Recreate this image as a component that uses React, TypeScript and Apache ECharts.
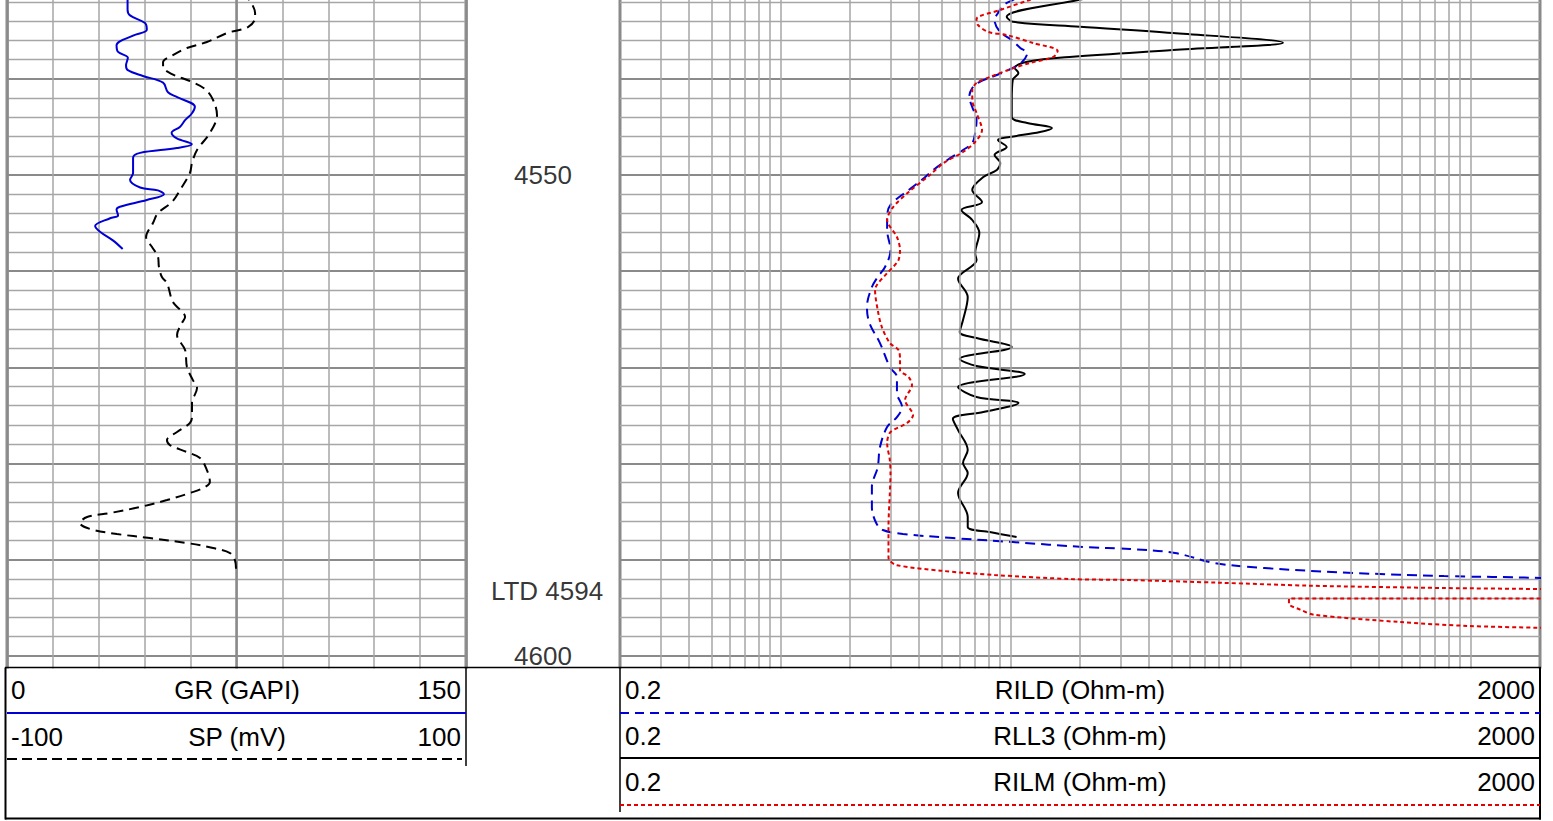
import React, { useEffect, useRef } from "react";
import * as echarts from "echarts";

// ---- scales / labels ----
const GR_RANGE = [0, 150];
const SP_RANGE = [-100, 100];
const RES_RANGE = [0.2, 2000];
const DEPTH_LABELS = [4550, 4600];
const LTD = 4594;
const GR_NAME = "GR (GAPI)";
const SP_NAME = "SP (mV)";
const RES_NAMES = ["RILD (Ohm-m)", "RLL3 (Ohm-m)", "RILM (Ohm-m)"];

// ---- curves: [depth (ft), value] ----
const GR_LOG = [
  [4531.5, 39.4], [4532.8, 39.4], [4533.4, 40.2], [4534.2, 45.1], [4534.9, 45.7],
  [4535.5, 41.2], [4536.5, 35.8], [4537.2, 36.3], [4537.8, 39.5], [4538.6, 38.9],
  [4539.1, 39.5], [4539.7, 44.4], [4540.4, 51.0], [4541.4, 52.6], [4541.9, 55.6],
  [4542.9, 61.4], [4543.6, 60.4], [4544.3, 58.2], [4545.0, 56.5], [4545.6, 53.8],
  [4546.2, 55.5], [4546.8, 60.4], [4547.2, 55.5], [4547.7, 43.5], [4548.2, 41.2],
  [4549.8, 41.2], [4550.5, 40.2], [4551.3, 43.5], [4551.6, 49.3], [4552.0, 51.3],
  [4552.6, 45.7], [4553.3, 36.9], [4553.6, 35.8], [4554.2, 36.3], [4554.5, 33.7],
  [4555.3, 28.8], [4555.9, 30.4], [4556.8, 34.6], [4557.7, 37.8],
];

const SP_LOG = [
  [4531.0, 3.0], [4533.15, 8.1], [4533.67, 8.1], [4534.61, 5.0], [4535.23, -4.1],
  [4536.17, -12.9], [4536.79, -21.6], [4537.52, -27.7], [4538.25, -32.0], [4538.77, -32.0],
  [4539.5, -28.1], [4540.23, -20.3], [4541.06, -13.7], [4542.2, -10.2], [4543.76, -8.5],
  [4545.63, -11.6], [4547.4, -17.2], [4548.75, -19.4], [4549.79, -20.3], [4551.56, -24.6],
  [4552.81, -28.1], [4553.96, -34.2], [4555.0, -36.4], [4556.45, -39.4], [4557.49, -36.8],
  [4558.53, -34.2], [4559.57, -33.8], [4560.61, -32.5], [4561.24, -30.3], [4563.21, -27.7],
  [4564.77, -22.4], [4565.4, -23.8], [4566.64, -25.9], [4568.2, -22.4], [4569.97, -21.6],
  [4571.33, -19.0], [4572.16, -17.2], [4573.72, -19.4], [4575.17, -19.4], [4575.8, -20.3],
  [4576.73, -25.9], [4577.57, -30.3], [4578.09, -29.0], [4578.82, -21.6], [4579.44, -15.9],
  [4580.69, -12.9], [4581.93, -11.6], [4582.56, -14.6], [4583.08, -20.3], [4583.81, -30.3],
  [4584.54, -42.1], [4585.16, -55.1], [4585.58, -65.1], [4586.2, -68.2], [4586.82, -63.8],
  [4587.34, -52.1], [4587.76, -37.7], [4588.28, -21.6], [4588.8, -10.2], [4589.32, -2.8],
  [4590.05, -0.7], [4591.09, -0.2],
];

const RLL3_LOG = [
  [4531.0, 30], [4531.8, 19.6], [4533.54, 9.6], [4534.06, 10.2], [4534.58, 20],
  [4535.23, 50.7], [4536.24, 152.6], [4537.0, 50.7], [4537.7, 18.6], [4538.22, 11.8],
  [4538.87, 10.4], [4539.39, 10.8], [4540.12, 10.2], [4542.2, 10.1], [4543.97, 10.1],
  [4544.59, 11.8], [4545.11, 15.1], [4545.53, 13.4], [4546.05, 9.9], [4546.36, 8.8],
  [4547.09, 9.6], [4547.92, 8.5], [4548.76, 9.0], [4549.48, 8.7], [4550.21, 7.6],
  [4551.56, 6.8], [4552.81, 7.5], [4553.64, 6.1], [4554.68, 6.8], [4556.04, 7.3],
  [4558.12, 7.0], [4558.85, 7.1], [4560.8, 5.9], [4562.69, 6.5], [4565.09, 6.2],
  [4566.33, 6.0], [4566.96, 7.1], [4567.89, 10.1], [4569.14, 6.0], [4569.87, 7.1],
  [4570.7, 11.5], [4572.06, 5.9], [4573.1, 7.1], [4573.72, 10.8], [4574.66, 7.6],
  [4575.38, 5.6], [4576.53, 5.9], [4578.61, 6.5], [4579.96, 6.2], [4581.0, 6.5],
  [4583.08, 5.9], [4585.58, 6.5], [4586.62, 6.5], [4587.14, 8.1], [4587.66, 10.6],
];

const RILD_LOG = [
  [4531.0, 12], [4531.8, 10.2], [4532.32, 9.3], [4533.15, 8.8], [4533.88, 8.5],
  [4535.13, 9.0], [4535.96, 10.1], [4536.79, 11.0], [4537.31, 11.8], [4538.25, 11.2],
  [4538.87, 10.2], [4539.6, 8.7], [4540.33, 7.3], [4540.95, 6.8], [4541.89, 6.6],
  [4542.93, 6.8], [4544.28, 7.1], [4545.63, 7.0], [4546.68, 6.8], [4547.4, 6.2],
  [4548.44, 5.3], [4549.48, 4.6], [4550.32, 4.2], [4551.56, 3.6], [4553.12, 3.0],
  [4554.37, 2.9], [4555.72, 2.9], [4557.81, 3.0], [4559.57, 2.84], [4560.61, 2.64],
  [4561.65, 2.49], [4563.73, 2.37], [4565.4, 2.43], [4567.48, 2.7], [4569.98, 2.98],
  [4571.02, 3.2], [4572.68, 3.2], [4574.14, 3.37], [4575.18, 3.2], [4576.22, 2.9],
  [4578.3, 2.7], [4580.38, 2.64], [4582.46, 2.49], [4584.54, 2.49], [4586.2, 2.6],
  [4586.93, 2.78], [4587.34, 3.4], [4587.76, 5.6], [4588.18, 10.2], [4588.7, 21],
  [4588.9, 33], [4589.32, 51.8], [4590.36, 77], [4590.88, 127], [4591.4, 314],
  [4591.72, 765], [4591.92, 2000], [4592.24, 3000],
];

const RILM_LOG = [
  [4531.0, 16], [4531.8, 12.1], [4532.84, 9.0], [4533.77, 7.1], [4534.4, 7.2],
  [4535.13, 8.0], [4535.44, 9.6], [4536.27, 12.5], [4537.1, 16.0], [4537.73, 15.3],
  [4538.35, 12.1], [4538.87, 10.3], [4539.81, 8.1], [4540.43, 7.1], [4541.16, 6.8],
  [4542.2, 6.8], [4543.55, 7.1], [4545.32, 7.5], [4546.57, 7.0], [4547.61, 6.2],
  [4548.76, 5.1], [4550.0, 4.45], [4551.77, 3.6], [4553.33, 3.08], [4554.68, 2.9],
  [4556.45, 3.2], [4557.81, 3.3], [4558.85, 3.25], [4559.57, 3.08], [4560.2, 2.9],
  [4561.97, 2.57], [4564.05, 2.64], [4565.81, 2.75], [4567.48, 2.98], [4568.21, 3.25],
  [4569.25, 3.3], [4570.29, 3.3], [4571.02, 3.6], [4571.85, 3.72], [4573.41, 3.47],
  [4574.97, 3.76], [4575.8, 3.54], [4576.74, 3.0], [4577.88, 2.9], [4579.65, 2.98],
  [4581.0, 3.0], [4583.08, 2.98], [4586.62, 2.94], [4589.74, 2.94], [4590.05, 2.96],
  [4590.57, 3.17], [4591.16, 4.97], [4591.61, 8.5], [4592.03, 18.3], [4592.13, 33],
  [4592.41, 81], [4592.72, 200], [4592.96, 765], [4593.07, 2000], [4593.27, 5000],
  [4593.9, 5000], [4594.05, 2500], [4594.05, 162], [4594.6, 162], [4595.2, 181],
  [4595.74, 208], [4596.5, 492], [4596.9, 963], [4597.1, 2000], [4597.3, 5000],
];

// ---- layout constants ----
const W = 1553;
const H = 821;
const OFF = 20; // chart canvas extends this far above the page top
const PX_PER_FT = 9.614;
const Y_MIN = 4530;
const Y_MAX = 4610;
const REF_DEPTH = 4550;
const REF_Y = 175;
const GRID_TOP = REF_Y + OFF - (REF_DEPTH - Y_MIN) * PX_PER_FT;
const GRID_H = (Y_MAX - Y_MIN) * PX_PER_FT;
const TRACK_BOTTOM = 667.5;
const FONT = "'Liberation Sans', Arial, Helvetica, sans-serif";
const FS = 26;

const BLUE = "#0000d4";
const RED = "#e30000";
const GRID_MINOR = "#a6a6a6";
const GRID_MAJOR = "#8a8a8a";

function logGridValues(min: number, max: number) {
  const out: number[] = [];
  for (let e = -1; e <= 3; e++) {
    for (let m = 1; m <= 9; m++) {
      const v = +(m * Math.pow(10, e)).toPrecision(3);
      if (v > min && v < max) out.push(v);
    }
  }
  return out;
}

export default function App() {
  const ref = useRef<HTMLDivElement>(null);

  useEffect(() => {
    document.body.style.margin = "0";
    document.body.style.overflow = "hidden";
    const chart = echarts.init(ref.current!, null, { renderer: "svg" });

    const depthAxis = (show: boolean) => ({
      type: "value",
      inverse: true,
      min: Y_MIN,
      max: Y_MAX,
      interval: 10,
      axisLine: { show: false },
      axisTick: { show: false },
      axisLabel: { show: false },
      splitLine: { show, lineStyle: { color: GRID_MAJOR, width: 2.2 } },
      minorTick: { show: false, splitNumber: 5 },
      minorSplitLine: { show, lineStyle: { color: GRID_MINOR, width: 1.3 } },
    });

    const hidden = {
      axisLine: { show: false },
      axisTick: { show: false },
      axisLabel: { show: false },
    };

    const toXY = (arr: number[][]) => arr.map(([d, v]) => [v, d]);

    const txt = (text: string, x: number, y: number, align: string) => ({
      type: "text",
      x,
      y: y + OFF,
      z: 100,
      style: {
        text,
        fontSize: FS,
        fontFamily: FONT,
        fill: "#000",
        align,
        verticalAlign: "middle",
      },
    });
    const ln = (x1: number, y1: number, x2: number, y2: number, stroke: string, lineWidth: number, lineDash?: number[]) => ({
      type: "line",
      z: 100,
      shape: { x1, y1: y1 + OFF, x2, y2: y2 + OFF },
      style: { stroke, lineWidth, lineDash: lineDash || null },
    });

    const option: any = {
      animation: false,
      backgroundColor: "#fff",
      textStyle: { fontFamily: FONT },
      grid: [
        { left: 7, width: 459, top: GRID_TOP, height: GRID_H, show: true, borderColor: GRID_MAJOR, borderWidth: 3, backgroundColor: "transparent" },
        { left: 620, width: 920, top: GRID_TOP, height: GRID_H, show: true, borderColor: GRID_MAJOR, borderWidth: 3, backgroundColor: "transparent" },
        { left: 466, width: 154, top: GRID_TOP, height: GRID_H, show: false },
      ],
      xAxis: [
        {
          gridIndex: 0, type: "value", min: GR_RANGE[0], max: GR_RANGE[1], interval: 15, ...hidden,
          splitLine: { show: true, lineStyle: { color: GRID_MINOR, width: 1.5 } },
        },
        {
          gridIndex: 0, type: "value", min: SP_RANGE[0], max: SP_RANGE[1], interval: 100, ...hidden,
          splitLine: { show: true, lineStyle: { color: GRID_MAJOR, width: 2.5 } },
        },
        {
          gridIndex: 1, type: "log", logBase: 10, min: RES_RANGE[0], max: RES_RANGE[1], ...hidden,
          splitLine: { show: false },
        },
        { gridIndex: 2, type: "value", min: 0, max: 1, ...hidden, splitLine: { show: false } },
      ],
      yAxis: [
        { gridIndex: 0, ...depthAxis(true) },
        { gridIndex: 1, ...depthAxis(true) },
        { gridIndex: 2, ...depthAxis(false) },
      ],
      series: [
        {
          name: "loggrid",
          type: "line",
          xAxisIndex: 2,
          yAxisIndex: 1,
          data: [[1, 4400]],
          showSymbol: false,
          symbol: "none",
          lineStyle: { opacity: 0 },
          z: 1,
          silent: true,
          markLine: {
            silent: true,
            symbol: ["none", "none"],
            label: { show: false },
            lineStyle: { color: GRID_MINOR, width: 1.5, type: "solid" },
            data: logGridValues(RES_RANGE[0], RES_RANGE[1]).map((v) => ({ xAxis: v })),
          },
        },
        {
          name: "GR",
          type: "line",
          xAxisIndex: 0,
          yAxisIndex: 0,
          data: toXY(GR_LOG),
          symbol: "none",
          smooth: 0.35,
          z: 4,
          lineStyle: { color: BLUE, width: 2 },
        },
        {
          name: "SP",
          type: "line",
          xAxisIndex: 1,
          yAxisIndex: 0,
          data: toXY(SP_LOG),
          symbol: "none",
          smooth: 0.35,
          z: 3,
          lineStyle: { color: "#000", width: 2, type: [10, 6] },
        },
        {
          name: "RLL3",
          type: "line",
          xAxisIndex: 2,
          yAxisIndex: 1,
          data: toXY(RLL3_LOG),
          symbol: "none",
          smooth: 0.35,
          z: 3,
          lineStyle: { color: "#000", width: 2 },
        },
        {
          name: "RILD",
          type: "line",
          xAxisIndex: 2,
          yAxisIndex: 1,
          data: toXY(RILD_LOG),
          symbol: "none",
          smooth: 0.35,
          z: 4,
          lineStyle: { color: BLUE, width: 2, type: [10, 6] },
        },
        {
          name: "RILM",
          type: "line",
          xAxisIndex: 2,
          yAxisIndex: 1,
          data: toXY(RILM_LOG),
          symbol: "none",
          smooth: 0.3,
          z: 5,
          lineStyle: { color: RED, width: 2, type: [4, 3] },
        },
        {
          name: "depth",
          type: "scatter",
          xAxisIndex: 3,
          yAxisIndex: 2,
          symbolSize: 1,
          itemStyle: { color: "rgba(0,0,0,0)" },
          z: 6,
          label: {
            show: true,
            position: "inside",
            fontSize: FS,
            fontFamily: FONT,
            color: "#000",
            formatter: (p: any) => p.data.text,
          },
          data: [
            ...DEPTH_LABELS.map((d) => ({ value: [0.5, d], text: String(d) })),
            { value: [0.5, LTD], text: "LTD " + LTD, label: { offset: [4, -7] } },
          ],
        },
      ],
      graphic: [
        { type: "rect", z: 50, shape: { x: 0, y: TRACK_BOTTOM + 1 + OFF, width: W, height: H - TRACK_BOTTOM }, style: { fill: "#fff" } },
        ln(5, TRACK_BOTTOM, 1541, TRACK_BOTTOM, "#000", 1.5),
        ln(5.5, TRACK_BOTTOM, 5.5, 819.5, "#000", 2),
        ln(5, 818.5, 1541, 818.5, "#000", 2),
        ln(1540, TRACK_BOTTOM, 1540, 819.5, "#000", 2),
        ln(466, TRACK_BOTTOM, 466, 766, "#000", 1.5),
        ln(620, TRACK_BOTTOM, 620, 812, "#000", 1.5),
        ln(7, 713, 466, 713, BLUE, 2),
        ln(7, 759, 462, 759, "#000", 2, [10, 5]),
        ln(620, 713, 1540, 713, BLUE, 2, [9, 6]),
        ln(620, 758, 1540, 758, "#000", 2),
        ln(620, 805, 1540, 805, RED, 2, [4, 3]),
        txt(String(GR_RANGE[0]), 11, 690, "left"),
        txt(GR_NAME, 237, 690, "center"),
        txt(String(GR_RANGE[1]), 461, 690, "right"),
        txt(String(SP_RANGE[0]), 11, 737, "left"),
        txt(SP_NAME, 237, 737, "center"),
        txt(String(SP_RANGE[1]), 461, 737, "right"),
        ...RES_NAMES.flatMap((name, i) => [
          txt(String(RES_RANGE[0]), 625, 690 + i * 46, "left"),
          txt(name, 1080, 690 + i * 46, "center"),
          txt(String(RES_RANGE[1]), 1535, 690 + i * 46, "right"),
        ]),
      ],
    };

    chart.setOption(option);
    return () => chart.dispose();
  }, []);

  return <div ref={ref} style={{ width: W, height: H + OFF, marginTop: -OFF }} />;
}
